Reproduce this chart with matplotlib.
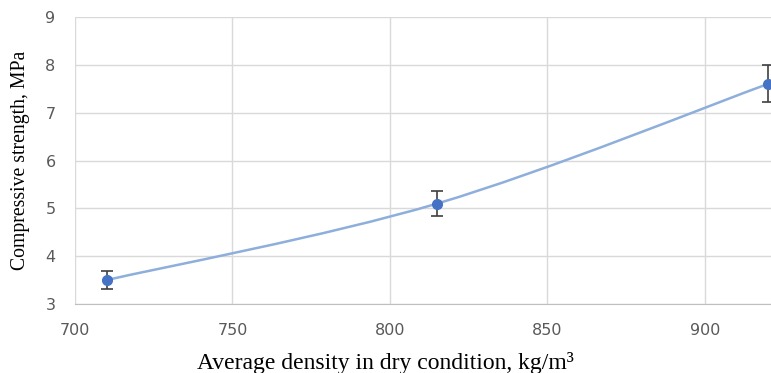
import numpy as np
import matplotlib
matplotlib.use("Agg")
import matplotlib.pyplot as plt
from matplotlib.path import Path
from matplotlib.patches import PathPatch

density = [710, 815, 920]
strength = [3.5, 5.1, 7.6]
err_low = [0.18, 0.25, 0.38]
err_high = [0.18, 0.27, 0.40]
xticks = [700, 750, 800, 850, 900]
yticks = [3, 4, 5, 6, 7, 8, 9]

fig = plt.figure(figsize=(7.71, 3.73), dpi=100)
ax = fig.add_axes([0.0973, 0.185, 0.9027, 0.7694])
ax.set_xlim(700, 921)
ax.set_ylim(3, 9)
ax.set_xticks(xticks)
ax.set_yticks(yticks)
ax.grid(True, color="#d9d9d9", linewidth=1)
ax.set_axisbelow(True)
for s in ["top", "right", "left"]:
    ax.spines[s].set_visible(False)
ax.spines["bottom"].set_color("#bfbfbf")
ax.tick_params(length=0, labelsize=11.5, labelcolor="#595959")
ax.tick_params(axis="x", pad=14)
ax.tick_params(axis="y", pad=14)

# Excel-style smoothed line (Bezier through the data points, drawn in display space)
pts = ax.transData.transform(np.column_stack([density, strength]))
verts = [tuple(pts[0])]
codes = [Path.MOVETO]
n = len(pts)
for i in range(n - 1):
    p0 = pts[max(i - 1, 0)]
    p1 = pts[i]
    p2 = pts[i + 1]
    p3 = pts[min(i + 2, n - 1)]
    c1 = p1 + (p2 - p0) / 6.0
    c2 = p2 - (p3 - p1) / 6.0
    verts += [tuple(c1), tuple(c2), tuple(p2)]
    codes += [Path.CURVE4] * 3
inv = ax.transData.inverted()
verts_data = inv.transform(np.array(verts))
patch = PathPatch(Path(verts_data, codes), facecolor="none", edgecolor="#8eaedb",
                  linewidth=1.8, clip_on=False)
ax.add_patch(patch)

ax.errorbar(density, strength, yerr=[err_low, err_high], fmt="o", color="#4472c4",
            markersize=7, ecolor="#404040", elinewidth=1.2, capsize=4, capthick=1.2,
            clip_on=False, zorder=3)

ax.set_ylabel("Compressive strength, MPa", family="Liberation Serif", fontsize=14.2)
ax.yaxis.set_label_coords(-0.064, 0.5)
ax.set_xlabel("Average density in dry condition, kg/m³", family="Liberation Serif",
              fontsize=17, labelpad=10)
ax.xaxis.label.set_x(0.446)

fig.savefig("out.png", dpi=100)
